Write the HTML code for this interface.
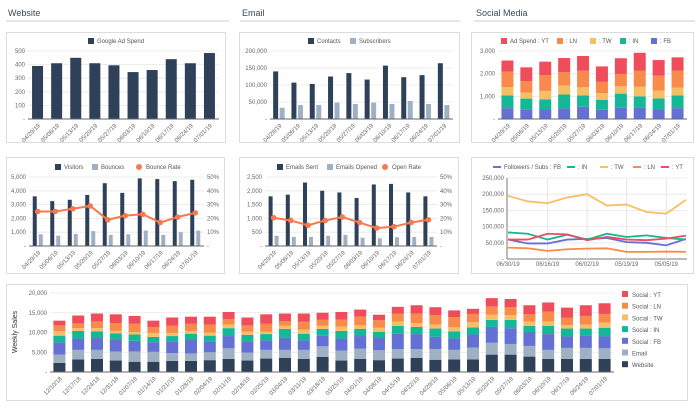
<!DOCTYPE html>
<html><head><meta charset="utf-8">
<style>
html,body{margin:0;padding:0;background:#fff;}
svg{display:block;font-family:"Liberation Sans",sans-serif;}
</style></head>
<body>
<svg id="s" width="700" height="410" viewBox="0 0 700 410"></svg>
<script>
// ---- data ----
const wkDates = ["04/29/19","05/06/19","05/13/19","05/20/19","05/27/19","06/03/19","06/10/19","06/17/19","06/24/19","07/01/19"];
const adSpend = [390,410,450,410,395,345,360,440,410,485];
const contacts = [140000,107000,103000,125000,135000,116000,157000,123000,129000,164000];
const subscribers = [33000,41000,41000,48000,44000,48000,44000,53000,44000,41000];
const smFB = [480,430,420,460,540,410,500,500,420,480];
const smIN = [560,470,450,620,500,440,620,500,490,560];
const smTW = [370,270,370,400,360,290,330,420,340,350];
const smLN = [680,500,690,580,730,500,540,720,660,750];
const smYT = [490,610,600,630,650,680,690,780,690,580];
const visitors = [3600,3250,3350,3700,4550,3850,4900,4850,4700,4800];
const bounces = [850,750,880,1080,800,850,1120,800,1000,1120];
const bounceRate = [25,25,27,29,19,22,23,17,21,24];
const emailsSent = [1800,1860,2300,2000,1940,1740,2230,2250,1940,1800];
const emailsOpened = [370,330,330,370,400,300,280,320,330,330];
const openRate = [20.5,18.5,15,18.5,21,17,13,14,17,19];
const folFB = [60000,48000,48000,60000,62000,65000,52000,50000,42000,62000];
const folIN = [82000,78000,60000,75000,60000,78000,68000,73000,65000,60000];
const folTW = [195000,178000,172000,190000,200000,165000,168000,145000,140000,183000];
const folLN = [35000,33000,25000,30000,32000,33000,22000,22000,23000,22000];
const folYT = [60000,60000,78000,76000,58000,68000,60000,58000,63000,72000];
const folTicks = ["06/30/19","06/16/19","06/02/19","05/19/19","05/05/19"];
const salesDates = ["12/10/18","12/17/18","12/24/18","12/31/18","01/07/19","01/14/19","01/21/19","01/28/19","02/04/19","02/11/19","02/18/19","02/25/19","03/04/19","03/11/19","03/18/19","03/25/19","04/01/19","04/08/19","04/15/19","04/22/19","04/29/19","05/06/19","05/13/19","05/20/19","05/27/19","06/03/19","06/10/19","06/17/19","06/24/19","07/01/19"];
const salesWeb = [2300,3200,3300,2900,2600,2600,2800,2800,3000,3300,2900,3400,3600,3300,3800,2900,3300,3000,3400,3600,3100,3200,3200,4400,4400,3900,3300,3300,3300,3300];
const salesEmail = [2100,2400,2300,2300,2600,2500,2000,1900,2000,2700,2000,2200,2000,2300,2700,2500,2600,2500,2400,2200,2700,2400,3000,3000,2700,2700,2300,2800,2800,2700];
const salesFB = [3100,2900,3000,2900,2700,2400,3000,3400,2700,3100,2700,2400,3100,2400,2700,3100,3200,3100,3900,3800,3100,2900,3300,4000,4000,3400,4000,2900,3100,3000];
const salesIN = [1700,1900,1700,1700,1600,1400,1300,1600,1500,2000,1800,1600,2200,1700,1700,1900,1800,1600,2000,1800,2100,1800,1800,1800,2100,1700,2100,2000,1800,2200];
const salesTW = [1100,700,800,600,600,1000,800,700,800,900,800,600,800,1000,800,1100,1000,1000,1100,1000,1000,1000,1300,1300,1200,1100,1100,900,1000,1300];
const salesLN = [1500,1200,1700,2000,2100,1500,1800,1800,2000,1400,1600,2000,1200,2000,1500,1800,2100,1900,2000,2400,2400,2600,2100,2100,2000,1800,2500,1900,2200,2200];
const salesYT = [1200,2000,2000,2200,2000,1600,2100,1800,2000,1800,2000,2400,1900,2100,1800,1900,1800,1400,1700,2100,2000,1700,1300,2100,2100,2300,2300,2500,2700,2700];

const C = {navy:"#2f4158",gray:"#9fb0c3",fb:"#6470d3",in:"#14b897",tw:"#f6bf66",ln:"#f88a4c",yt:"#ef4d5b",rate:"#f8794f"};
const S = document.getElementById('s');
const NS = "http://www.w3.org/2000/svg";
function mk(tag, attrs, name, parent){
  const el = document.createElementNS(NS, tag);
  for (const k in attrs) el.setAttribute(k, attrs[k]);
  
  
  (parent||S).appendChild(el);
  return el;
}
function txt(x,y,s,name,o){
  o=o||{};
  const el = mk('text',{x:x,y:y,'font-size':o.fs||6,fill:o.fill||'#666','text-anchor':o.anchor||'start'},name);
  if(o.rot) el.setAttribute('transform','rotate('+o.rot+' '+x+' '+y+')');
  if(o.fw) el.setAttribute('font-weight',o.fw);
  el.textContent = s;
  return el;
}
function fmt(v){ return v===0?'-':v.toLocaleString('en-US'); }
function linScale(d0,d1,r0,r1){ return v => r0 + (v-d0)/(d1-d0)*(r1-r0); }

// headers
[["Website",8,229],["Email",242,460],["Social Media",476,695]].forEach((h,i)=>{
  txt(h[1],16,h[0],'section-title-'+h[0].toLowerCase().replace(' ','-'),{fs:9,fill:'#3a4a5e'});
  mk('line',{x1:h[1]-2,x2:h[2],y1:21,y2:21,stroke:'#c9ccd1','stroke-width':1},'section-divider');
});
// panels
[[6,32,219,110],[239,32,220,110],[471,32,222,110],[6,157,218,116],[239,157,219,116],[471,157,222,116],[6,284,681,116]].forEach((p,i)=>{
  mk('rect',{x:p[0]+.5,y:p[1]+.5,width:p[2],height:p[3],fill:'#fff',stroke:'#dcdcdc'},'chart-panel-'+(i+1));
});

function yAxis(x0,x1,yb,yt,max,step,right){
  const y = linScale(0,max,yb,yt);
  for(let v=0; v<=max+1e-9; v+=step){
    mk('line',{x1:x0,x2:x1,y1:y(v),y2:y(v),stroke:v===0?'#777':'#e6e6e6','stroke-width':v===0?1:0.8},'gridline');
    txt(x0-3,y(v)+2,fmt(v),'y-tick-label',{anchor:'end'});
  }
  return y;
}
function xBand(x0,x1,n){ const w=(x1-x0)/n; return i => x0 + w*(i+0.5); }
function xLabels(xf,labels,y0){
  labels.forEach((l,i)=>txt(xf(i)+3,y0+7,l,'x-tick-label',{anchor:'end',rot:-45}));
}
function legendSq(x,y,c,label,name){
  mk('rect',{x:x,y:y-5,width:6,height:6,fill:c},name+'-swatch');
  txt(x+9,y,label,name,{fill:'#555'});
}

// Panel 1: Google Ad Spend
(function(){
  const x0=28,x1=219,yb=119,yt=51;
  legendSq(88,43,C.navy,'Google Ad Spend','legend-google-ad-spend');
  const y=yAxis(x0,x1,yb,yt,500,100);
  const xf=xBand(x0,x1,adSpend.length);
  adSpend.forEach((v,i)=>mk('rect',{x:xf(i)-5.5,y:y(v),width:11,height:yb-y(v),fill:C.navy},'bar-ad-spend-'+i));
  mk('line',{x1:x0,x2:x1,y1:yb,y2:yb,stroke:'#666'},'x-axis');
  xLabels(xf,wkDates,yb);
})();
// Panel 2: Contacts / Subscribers
(function(){
  const x0=270,x1=453,yb=119,yt=51;
  legendSq(308,43,C.navy,'Contacts','legend-contacts');
  legendSq(350,43,C.gray,'Subscribers','legend-subscribers');
  const y=yAxis(x0,x1,yb,yt,200000,50000);
  const xf=xBand(x0,x1,contacts.length);
  contacts.forEach((v,i)=>mk('rect',{x:xf(i)-6,y:y(v),width:5,height:yb-y(v),fill:C.navy},'bar-contacts-'+i));
  subscribers.forEach((v,i)=>mk('rect',{x:xf(i)+0.5,y:y(v),width:5,height:yb-y(v),fill:C.gray},'bar-subscribers-'+i));
  mk('line',{x1:x0,x2:x1,y1:yb,y2:yb,stroke:'#666'},'x-axis');
  xLabels(xf,wkDates,yb);
})();
// Panel 3: Social ad spend stacked
(function(){
  const x0=498,x1=687,yb=119,yt=51;
  legendSq(501,43,C.yt,'Ad Spend : YT','legend-ad-spend-yt');
  legendSq(557,43,C.ln,': LN','legend-ad-spend-ln');
  legendSq(590,43,C.tw,': TW','legend-ad-spend-tw');
  legendSq(620,43,C.in,': IN','legend-ad-spend-in');
  legendSq(651,43,C.fb,': FB','legend-ad-spend-fb');
  const y=yAxis(x0,x1,yb,yt,3000,1000);
  const xf=xBand(x0,x1,smFB.length);
  const series=[[smFB,C.fb,'fb'],[smIN,C.in,'in'],[smTW,C.tw,'tw'],[smLN,C.ln,'ln'],[smYT,C.yt,'yt']];
  smFB.forEach((_,i)=>{
    let acc=0;
    series.forEach(s=>{
      const v=s[0][i];
      mk('rect',{x:xf(i)-6,y:y(acc+v),width:12,height:y(acc)-y(acc+v),fill:s[1]},'bar-ad-spend-'+s[2]+'-'+i);
      acc+=v;
    });
  });
  mk('line',{x1:x0,x2:x1,y1:yb,y2:yb,stroke:'#666'},'x-axis');
  xLabels(xf,wkDates,yb);
})();
// combo chart helper
function combo(x0,x1,yb,yt,bMax,bStep,A,B,R,rMax,prefix){
  const y=yAxis(x0,x1,yb,yt,bMax,bStep);
  const yr=linScale(0,rMax,yb,yt);
  for(let v=0; v<=rMax; v+=10) txt(x1+3,yr(v)+2,v===0?'-':v+'%','y2-tick-label');
  const xf=xBand(x0,x1,A.length);
  A.forEach((v,i)=>mk('rect',{x:xf(i)-5,y:y(v),width:4,height:yb-y(v),fill:C.navy},prefix+'-bar-a-'+i));
  B.forEach((v,i)=>mk('rect',{x:xf(i)+1,y:y(v),width:4,height:yb-y(v),fill:C.gray},prefix+'-bar-b-'+i));
  mk('line',{x1:x0,x2:x1,y1:yb,y2:yb,stroke:'#666'},'x-axis');
  mk('polyline',{points:R.map((v,i)=>xf(i)+','+yr(v)).join(' '),fill:'none',stroke:C.rate,'stroke-width':2},prefix+'-rate-line');
  R.forEach((v,i)=>mk('circle',{cx:xf(i),cy:yr(v),r:2.8,fill:C.rate},prefix+'-rate-point-'+i));
  xLabels(xf,wkDates,yb);
}
// Panel 4
legendSq(55,169,C.navy,'Visitors','legend-visitors');
legendSq(92,169,C.gray,'Bounces','legend-bounces');
mk('circle',{cx:139,cy:167,r:3,fill:C.rate},'legend-bounce-rate-swatch');
txt(146,169,'Bounce Rate','legend-bounce-rate',{fill:'#555'});
combo(29,204,246,177,5000,1000,visitors,bounces,bounceRate,50,'website');
// Panel 5
legendSq(277,169,C.navy,'Emails Sent','legend-emails-sent');
legendSq(327,169,C.gray,'Emails Opened','legend-emails-opened');
mk('circle',{cx:385,cy:167,r:3,fill:C.rate},'legend-open-rate-swatch');
txt(392,169,'Open Rate','legend-open-rate',{fill:'#555'});
combo(265,437,246,177,2500,500,emailsSent,emailsOpened,openRate,50,'email');
// Panel 6: followers line chart
(function(){
  const x0=507,x1=687,yb=259,yt=178;
  const y=yAxis(x0,x1,yb,yt,250000,50000);
  const xp = i => x0 + 1 + i*(x1-x0-2)/(folTW.length-1);
  folTicks.forEach((l,i)=>{
    const xx=xp(i*2);
    if(i>0) mk('line',{x1:xx,x2:xx,y1:yt,y2:yb,stroke:'#e6e6e6'},'v-gridline');
    txt(xx,266,l,'x-tick-label',{anchor:'middle'});
  });
  mk('line',{x1:x0,x2:x0,y1:yt,y2:yb,stroke:'#777'},'y-axis');
  const ser=[[folLN,C.ln,'ln'],[folFB,C.fb,'fb'],[folIN,C.in,'in'],[folYT,C.yt,'yt'],[folTW,C.tw,'tw']];
  ser.forEach(s=>mk('polyline',{points:s[0].map((v,i)=>xp(i)+','+y(v)).join(' '),fill:'none',stroke:s[1],'stroke-width':1.8},'line-followers-'+s[2]));
  const lg=[[493,C.fb,'Followers / Subs : FB','fb'],[567,C.in,': IN','in'],[600,C.tw,': TW','tw'],[633,C.ln,': LN','ln'],[661,C.yt,': YT','yt']];
  lg.forEach(l=>{
    mk('line',{x1:l[0],x2:l[0]+8,y1:167,y2:167,stroke:l[1],'stroke-width':2},'legend-followers-'+l[3]+'-swatch');
    txt(l[0]+11,169,l[2],'legend-followers-'+l[3],{fill:'#555'});
  });
})();
// Bottom: weekly sales
(function(){
  const x0=50,x1=614,yb=372,yt=293;
  txt(17,332,'Weekly Sales','y-axis-title',{fs:7,fill:'#333',anchor:'middle',rot:-90});
  const y=yAxis(x0,x1,yb,yt,20000,5000);
  const xf=xBand(x0,x1,salesDates.length);
  const series=[[salesWeb,C.navy,'website'],[salesEmail,C.gray,'email'],[salesFB,C.fb,'social-fb'],[salesIN,C.in,'social-in'],[salesTW,C.tw,'social-tw'],[salesLN,C.ln,'social-ln'],[salesYT,C.yt,'social-yt']];
  salesDates.forEach((_,i)=>{
    let acc=0;
    series.forEach(s=>{
      const v=s[0][i];
      mk('rect',{x:xf(i)-6,y:y(acc+v),width:12,height:y(acc)-y(acc+v),fill:s[1]},'bar-sales-'+s[2]+'-'+i);
      acc+=v;
    });
  });
  mk('line',{x1:x0,x2:x1,y1:yb,y2:yb,stroke:'#666'},'x-axis');
  xLabels(xf,salesDates,yb);
  const lg=[[C.yt,'Social : YT'],[C.ln,'Social : LN'],[C.tw,'Social : TW'],[C.in,'Social : IN'],[C.fb,'Social : FB'],[C.gray,'Email'],[C.navy,'Website']];
  lg.forEach((l,i)=>{
    const yy=296+i*11.7;
    mk('rect',{x:622,y:yy-5,width:6,height:6,fill:l[0]},'legend-sales-swatch-'+i);
    txt(632,yy+1,l[1],'legend-sales-'+i,{fill:'#555'});
  });
})();
</script>
</body></html>
